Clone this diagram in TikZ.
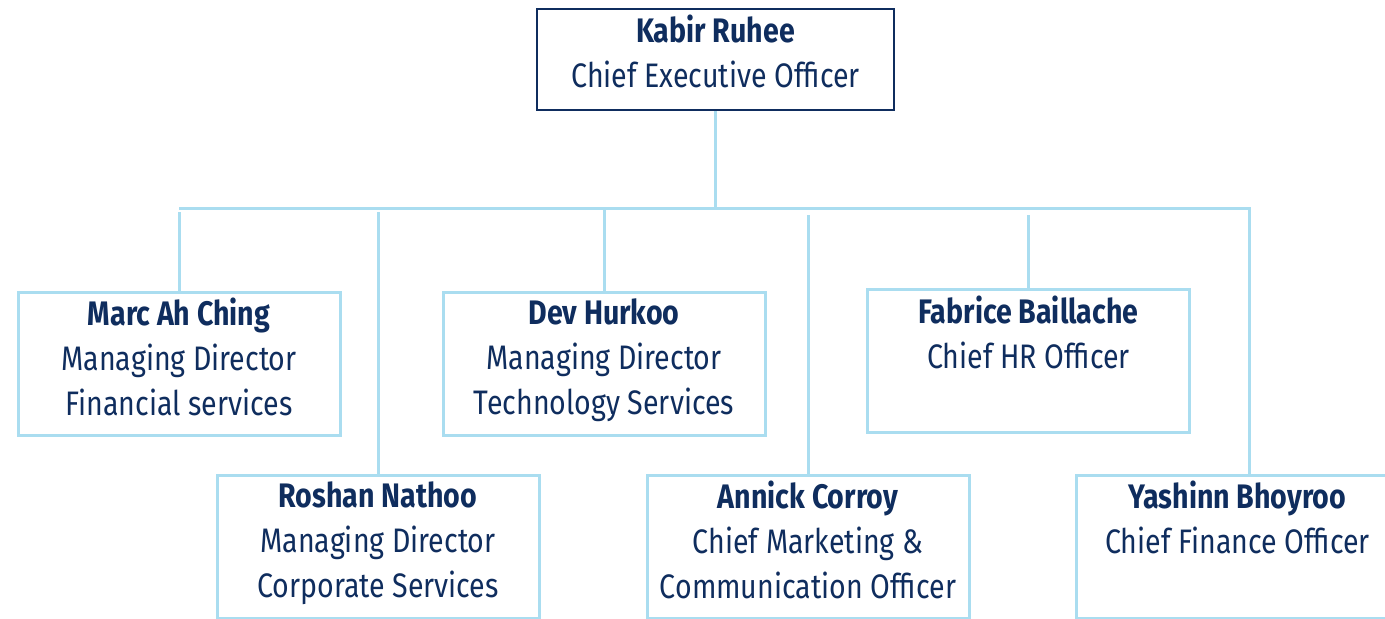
\documentclass[tikz,border=0pt]{standalone}
\usepackage{fontspec}
\setmainfont[FakeStretch=0.84]{Fira Sans}
\usepackage{tikz}
\definecolor{navy}{HTML}{0F2D5E}
\definecolor{skyline}{HTML}{AADDF0}

\begin{document}
\begin{tikzpicture}[
    x=0.5pt,y=0.5pt,
    box/.style={draw,skyline,line width=1.5pt,minimum width=161pt,minimum height=71.5pt,inner sep=0pt},
    topbox/.style={draw,navy,line width=1.25pt,minimum width=178.5pt,minimum height=50.5pt,inner sep=0pt},
    txt/.style={anchor=north,navy,align=center,font=\fontsize{17}{22.5}\selectfont,inner sep=0pt,yshift=-3.5pt},
    link/.style={skyline,line width=1.5pt}
    ]
    \clip (0,0) rectangle (1385,619);
    \fill[white] (0,0) rectangle (1385,619);
    \coordinate (bus) at (0,410);
    \coordinate (gap) at (0,404);
    \coordinate (gapm) at (0,407);
    \coordinate (corner) at (1249,410);
    \node[topbox] (ceo) at (715.5,559.5) {};
    \node[box] (marc) at (179,255) {};
    \node[box] (dev) at (604,255) {};
    \node[box] (fabrice) at (1028.5,257.5) {};
    \node[box] (roshan) at (378,72) {};
    \node[box] (annick) at (808,72) {};
    \node[box] (yashinn) at (1237.5,72) {};
    \node[txt] (ceotxt) at (ceo.north) {\textbf{Kabir Ruhee}\\Chief Executive Officer};
    \node[txt] (marctxt) at (marc.north) {\textbf{Marc Ah Ching}\\Managing Director\\Financial services};
    \node[txt] (devtxt) at (dev.north) {\textbf{Dev Hurkoo}\\Managing Director\\Technology Services};
    \node[txt] (fabricetxt) at (fabrice.north) {\textbf{Fabrice Baillache}\\Chief HR Officer};
    \node[txt] (roshantxt) at (roshan.north) {\textbf{Roshan Nathoo}\\Managing Director\\Corporate Services};
    \node[txt] (annicktxt) at (annick.north) {\textbf{Annick Corroy}\\Chief Marketing \&\\Communication Officer};
    \node[txt] (yashinntxt) at (yashinn.north) {\textbf{Yashinn Bhoyroo}\\Chief Finance Officer};
    \draw[link] (ceo.south) -- (ceo.south |- bus);
    \draw[link] (marc.north |- bus) -- (corner) -- (corner |- yashinn.north);
    \draw[link] (marc.north) -- (marc.north |- gapm);
    \draw[link] (dev.north) -- (dev.north |- bus);
    \draw[link] (roshan.north) -- (roshan.north |- gapm);
    \draw[link] (annick.north) -- (annick.north |- gap);
    \draw[link] (fabrice.north) -- (fabrice.north |- gap);
\end{tikzpicture}
\end{document}
